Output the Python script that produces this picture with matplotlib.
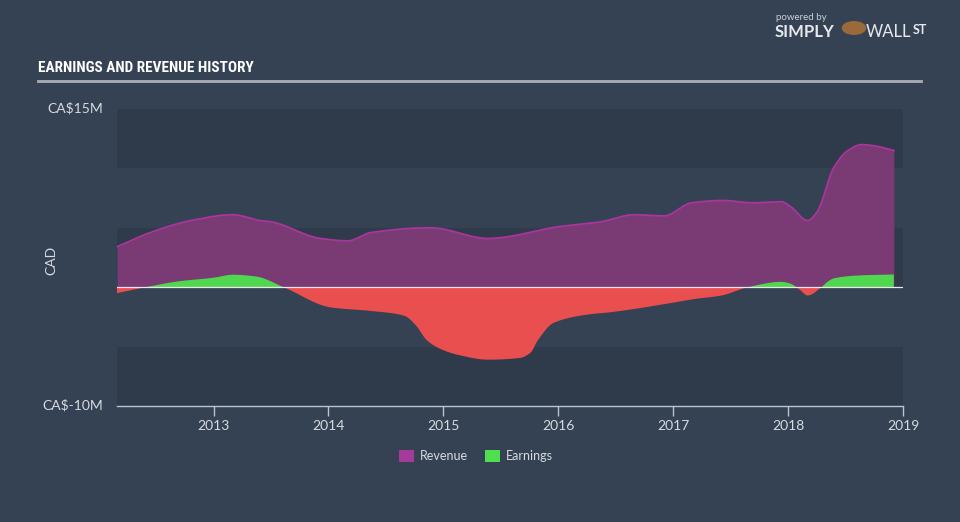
import matplotlib
matplotlib.use("Agg")
import matplotlib.pyplot as plt
from matplotlib.patches import Rectangle
import numpy as np

# Values (CA$ millions)
revenue_years = [2012.16, 2012.45, 2012.80, 2013.17, 2013.41, 2013.50, 2013.93,
                 2014.17, 2014.37, 2014.89, 2015.39, 2016.01, 2016.37, 2016.66,
                 2016.92, 2017.16, 2017.44, 2017.68, 2017.94, 2018.02, 2018.17,
                 2018.25, 2018.40, 2018.52, 2018.64, 2018.75, 2018.92]
revenue = [3.4, 4.6, 5.6, 6.1, 5.6, 5.5, 4.1,
           3.9, 4.6, 5.0, 4.1, 5.1, 5.5, 6.1,
           6.0, 7.1, 7.3, 7.1, 7.2, 6.8, 5.6,
           6.3, 10.1, 11.5, 12.0, 11.9, 11.5]

earnings_years = [2012.16, 2012.41, 2012.70, 2013.0, 2013.17, 2013.37, 2013.61,
                  2014.02, 2014.37, 2014.66, 2014.76, 2014.86, 2015.00, 2015.13,
                  2015.39, 2015.67, 2015.76, 2015.82, 2015.96, 2016.26, 2016.46,
                  2017.0, 2017.18, 2017.42, 2017.65, 2017.94, 2018.02, 2018.10,
                  2018.17, 2018.29, 2018.35, 2018.40, 2018.64, 2018.92]
earnings = [-0.5, 0.0, 0.5, 0.8, 1.05, 0.9, 0.0,
            -1.7, -2.0, -2.4, -3.2, -4.5, -5.3, -5.7,
            -6.1, -5.95, -5.5, -4.5, -3.0, -2.3, -2.1,
            -1.3, -1.0, -0.7, 0.0, 0.45, 0.3, -0.2,
            -0.7, 0.0, 0.5, 0.75, 1.0, 1.07]

year_ticks = [2013, 2014, 2015, 2016, 2017, 2018, 2019]

BG = "#344254"
BAND_DARK = "#2f3b4a"
BAND_LIGHT = "#344253"
REV_FILL = "#7a3a74"
REV_LINE = "#a8369c"
EARN_POS = "#4fd84f"
EARN_NEG = "#ea4f4f"
TEXT = "#d7dbe0"


def smooth(xs, ys, n=600):
    """monotone cubic curve through the points, like the web chart draws"""
    x = np.asarray(xs, float)
    y = np.asarray(ys, float)
    h = np.diff(x)
    d = np.diff(y) / h
    m = np.zeros_like(y)
    m[0], m[-1] = d[0], d[-1]
    for i in range(1, len(x) - 1):
        if d[i - 1] * d[i] > 0:
            w1 = 2 * h[i] + h[i - 1]
            w2 = h[i] + 2 * h[i - 1]
            m[i] = (w1 + w2) / (w1 / d[i - 1] + w2 / d[i])
    xx = np.linspace(x[0], x[-1], n)
    k = np.clip(np.searchsorted(x, xx) - 1, 0, len(x) - 2)
    t = (xx - x[k]) / h[k]
    h00 = 2 * t**3 - 3 * t**2 + 1
    h10 = t**3 - 2 * t**2 + t
    h01 = -2 * t**3 + 3 * t**2
    h11 = t**3 - t**2
    yy = h00 * y[k] + h10 * h[k] * m[k] + h01 * y[k + 1] + h11 * h[k] * m[k + 1]
    return xx, yy


fig = plt.figure(figsize=(9.6, 5.22), dpi=100)
fig.patch.set_facecolor(BG)

ax = fig.add_axes([117 / 960, 1 - 406 / 522, (903 - 117) / 960, (406 - 109) / 522])
ax.set_facecolor(BG)
ax.set_xlim(2012.16, 2019.0)
ax.set_ylim(-10, 15)

# alternating horizontal bands
for i, lo in enumerate(range(-10, 15, 5)):
    ax.axhspan(lo, lo + 5, color=BAND_DARK if i % 2 == 0 else BAND_LIGHT, lw=0, zorder=0)

# revenue area
rx, ry = smooth(revenue_years, revenue)
ax.fill_between(rx, 0, ry, color=REV_FILL, lw=0, zorder=2)
ax.plot(rx, ry, color=REV_LINE, lw=1.3, zorder=3)

# earnings area, green above zero and red below
ex, ey = smooth(earnings_years, earnings)
ax.fill_between(ex, 0, ey, where=ey >= 0, interpolate=True, color=EARN_POS, lw=0, zorder=4)
ax.fill_between(ex, 0, ey, where=ey <= 0, interpolate=True, color=EARN_NEG, lw=0, zorder=4)

ax.axhline(0, color="#f2e6ee", lw=0.9, zorder=5)

for s in ["top", "right", "left"]:
    ax.spines[s].set_visible(False)
ax.spines["bottom"].set_color("#b9c4d0")
ax.spines["bottom"].set_linewidth(1)
ax.set_yticks([])
ax.set_xticks(year_ticks)
ax.set_xticklabels([str(y) for y in year_ticks])
ax.tick_params(axis="x", colors="#b9c4d0", length=7, width=1, pad=3,
               labelcolor=TEXT, labelsize=10)
for lbl in ax.get_xticklabels():
    lbl.set_fontfamily("Lato")

# y labels
fig.text(103 / 960, 1 - 108 / 522, "CA$15M", ha="right", va="center",
         color=TEXT, fontsize=10, family="Lato")
fig.text(103 / 960, 1 - 405 / 522, "CA$-10M", ha="right", va="center",
         color=TEXT, fontsize=10, family="Lato")
fig.text(51 / 960, 1 - 260 / 522, "CAD", ha="center", va="center", rotation=90,
         color=TEXT, fontsize=10, family="Lato")

# title and underline
fig.text(38 / 960, 1 - 68 / 522, "EARNINGS AND REVENUE HISTORY", ha="left", va="center",
         color="white", fontsize=11, fontweight="bold",
         family=["Roboto Condensed", "Roboto"])
fig.add_artist(plt.Line2D([38 / 960, 921 / 960], [1 - 81 / 522, 1 - 81 / 522],
                          color="#a9aeb5", lw=2))

# legend
fig.add_artist(Rectangle((399 / 960, 1 - 462 / 522), 15 / 960, 12 / 522,
                         color="#a53a9a", lw=0))
fig.text(420 / 960, 1 - 456 / 522, "Revenue", ha="left", va="center",
         color=TEXT, fontsize=9, family="Lato")
fig.text(506 / 960, 1 - 456 / 522, "Earnings", ha="left", va="center",
         color=TEXT, fontsize=9, family="Lato")
fig.add_artist(Rectangle((485 / 960, 1 - 462 / 522), 15 / 960, 12 / 522,
                         color="#4fe04f", lw=0))

# logo text
fig.text(776 / 960, 1 - 18 / 522, "powered by", ha="left", va="center",
         color="#c9ced4", fontsize=7, family="Lato")
fig.text(775 / 960, 1 - 32 / 522, "SIMPLY", ha="left", va="center",
         color="#e6e8eb", fontsize=12, fontweight="bold", family="Lato")
fig.text(866 / 960, 1 - 32 / 522, "WALL", ha="left", va="center",
         color="#e6e8eb", fontsize=12, family="Lato")
fig.text(913 / 960, 1 - 30 / 522, "ST", ha="left", va="center",
         color="#e6e8eb", fontsize=9, fontweight="bold", family="Lato")
fig.add_artist(plt.Circle((854 / 960, 1 - 28 / 522), 0.012, color="#9a6a3a",
                          transform=fig.transFigure))

fig.savefig("out.png", dpi=100, facecolor=BG)
